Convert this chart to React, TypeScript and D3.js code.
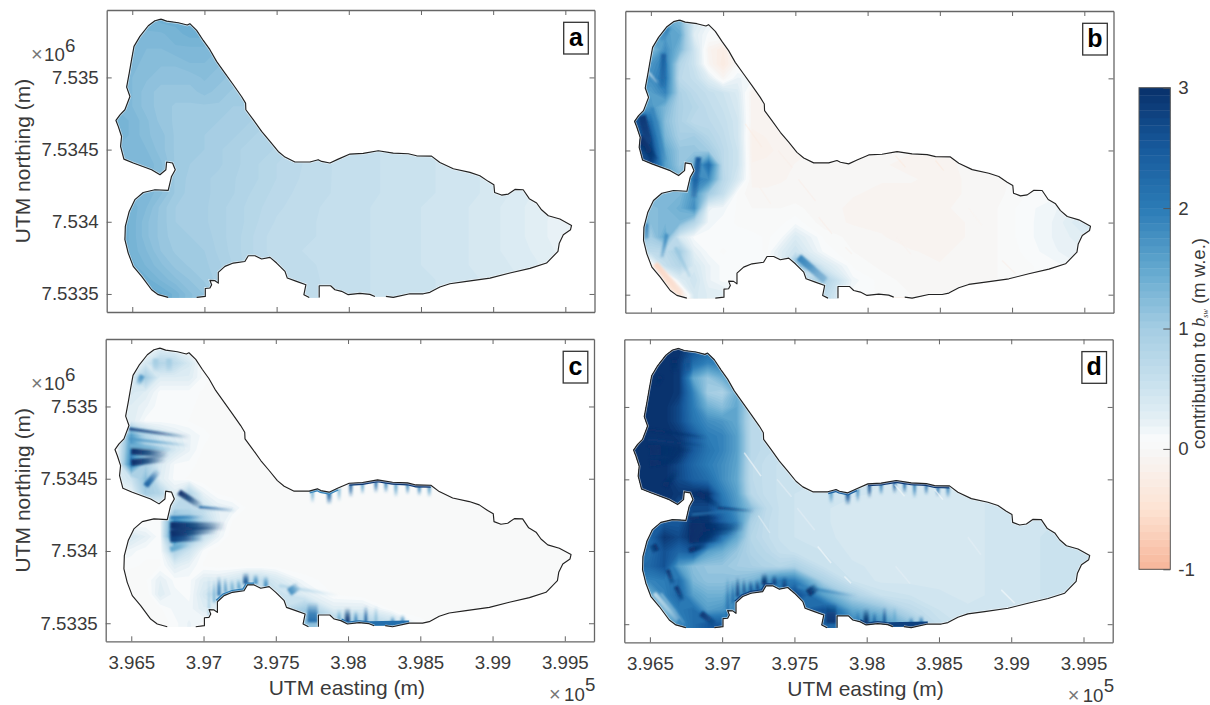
import React, { useRef, useEffect } from 'react';
import * as d3 from 'd3';

// grid nodes of the gridded fields (m), finer in the west
const gridEasting = [396300, 396400, 396500, 396600, 396700, 396800, 396900, 397000, 397100, 397200, 397300, 397400, 397500, 397700, 397900, 398100, 398300, 398500, 398700, 398900, 399100, 399300, 399500, 399700];
const gridNorthing = [7535500, 7535400, 7535300, 7535200, 7535100, 7535000, 7534900, 7534800, 7534700, 7534600, 7534500, 7534400, 7534300, 7534200, 7534100, 7534000, 7533900, 7533800, 7533700, 7533600, 7533500, 7533400];

const fieldA = [
  [1.3, 1.3, 1.3, 1.35, 1.4, 1.4, 1.4, 1.4, 1.35, 1.3, 1.2, 1.1, 1, .8, .7, .6, .55, .5, .45, .4, .35, .3, .25, .2],
  [1.3, 1.3, 1.3, 1.35, 1.4, 1.4, 1.4, 1.4, 1.35, 1.3, 1.2, 1.1, 1, .8, .7, .6, .55, .5, .45, .4, .35, .3, .25, .2],
  [1.3, 1.3, 1.3, 1.3, 1.3, 1.35, 1.4, 1.4, 1.3, 1.25, 1.15, 1.05, 1, .8, .7, .6, .55, .5, .45, .4, .35, .3, .25, .2],
  [1.3, 1.3, 1.3, 1.25, 1.25, 1.3, 1.3, 1.3, 1.25, 1.2, 1.1, 1.05, 1, .8, .7, .6, .55, .5, .45, .4, .35, .3, .25, .2],
  [1.3, 1.3, 1.3, 1.2, 1.2, 1.2, 1.25, 1.25, 1.2, 1.15, 1.1, 1, .95, .8, .7, .6, .55, .5, .45, .4, .35, .3, .25, .2],
  [1.3, 1.3, 1.25, 1.2, 1.15, 1.15, 1.15, 1.2, 1.15, 1.1, 1.05, 1, .95, .8, .7, .6, .55, .5, .45, .4, .35, .3, .25, .2],
  [1.3, 1.3, 1.25, 1.15, 1.1, 1.1, 1.1, 1.15, 1.1, 1.05, 1, .95, .9, .78, .7, .6, .55, .5, .45, .4, .35, .3, .25, .2],
  [1.3, 1.3, 1.25, 1.15, 1.1, 1.05, 1.05, 1.05, 1.05, 1, 1, .95, .9, .75, .68, .6, .55, .52, .48, .42, .36, .3, .25, .2],
  [1.35, 1.35, 1.3, 1.2, 1.1, 1.05, 1, 1, 1, .95, .95, .9, .85, .72, .65, .6, .55, .52, .48, .42, .36, .3, .25, .2],
  [1.35, 1.35, 1.3, 1.2, 1.15, 1.05, 1, 1, .95, .95, .9, .85, .82, .7, .64, .6, .55, .52, .48, .42, .36, .3, .25, .2],
  [1.3, 1.3, 1.3, 1.25, 1.15, 1.05, 1, 1, .95, .9, .85, .85, .8, .7, .63, .58, .55, .52, .48, .42, .36, .3, .25, .2],
  [1.3, 1.3, 1.3, 1.3, 1.2, 1.05, 1, .95, .95, .9, .85, .8, .75, .68, .62, .58, .55, .52, .48, .42, .36, .3, .24, .18],
  [1.3, 1.3, 1.3, 1.3, 1.2, 1.05, .98, .95, .92, .88, .85, .8, .75, .67, .62, .58, .55, .52, .48, .44, .38, .3, .25, .2],
  [1.3, 1.3, 1.3, 1.3, 1.2, 1.05, .97, .95, .92, .88, .82, .78, .72, .66, .62, .58, .55, .52, .48, .44, .38, .3, .25, .2],
  [1.4, 1.4, 1.35, 1.25, 1.1, 1, .95, .95, .9, .85, .8, .75, .7, .65, .6, .57, .54, .5, .47, .42, .36, .28, .22, .18],
  [1.45, 1.45, 1.35, 1.2, 1.1, 1, .97, .95, .9, .85, .8, .73, .68, .64, .6, .57, .54, .5, .47, .42, .36, .28, .2, .16],
  [1.45, 1.45, 1.35, 1.2, 1.1, 1.02, 1, .98, .9, .85, .78, .7, .66, .64, .6, .57, .54, .5, .47, .42, .36, .28, .2, .16],
  [1.45, 1.45, 1.35, 1.25, 1.12, 1.05, 1.02, 1, .92, .85, .78, .7, .66, .62, .6, .57, .54, .5, .47, .42, .36, .3, .22, .18],
  [1.45, 1.45, 1.4, 1.3, 1.2, 1.1, 1.05, 1.02, .95, .87, .78, .72, .68, .64, .6, .57, .54, .5, .47, .42, .38, .32, .24, .2],
  [1.45, 1.45, 1.45, 1.4, 1.3, 1.2, 1.12, 1.05, .97, .9, .8, .74, .7, .65, .6, .57, .54, .52, .48, .44, .4, .34, .26, .2],
  [1.5, 1.5, 1.5, 1.5, 1.45, 1.35, 1.2, 1.12, 1, .9, .82, .76, .72, .66, .6, .57, .54, .52, .48, .44, .4, .34, .26, .2],
  [1.5, 1.5, 1.5, 1.5, 1.45, 1.35, 1.2, 1.12, 1, .9, .82, .76, .72, .66, .6, .57, .54, .52, .48, .44, .4, .34, .26, .2],
];

const fieldB = [
  [1.5, 1.5, 1.5, 1.5, 1, .4, .2, 0, -.05, -.05, -.05, -.05, -.05, -.05, -.05, -.05, -.05, -.05, -.05, 0, .05, .1, .2, .3],
  [1.5, 1.5, 1.5, 1.5, 1.3, .4, .2, .1, 0, -.05, -.05, -.05, -.05, -.05, -.05, -.05, -.05, -.05, -.05, 0, .05, .1, .2, .3],
  [1.6, 1.6, 1.6, 1.6, 1.5, .3, .1, .1, 0, -.05, -.05, -.05, -.05, -.05, -.05, -.05, -.05, -.05, -.05, 0, .05, .1, .2, .3],
  [1.8, 1.8, 1.2, 1.8, 1.3, .5, -.1, -.25, 0, -.05, -.05, -.05, -.05, -.05, -.05, -.05, -.05, -.05, -.05, 0, .05, .1, .2, .3],
  [1.8, 1.8, 1.7, 2, .8, .5, -.05, -.3, 0, -.05, -.05, -.05, -.05, -.05, -.05, -.05, -.05, -.05, -.05, 0, .05, .1, .2, .3],
  [1.9, 1.9, 1.8, 2.1, .7, .6, .3, -.05, .2, .15, -.1, -.05, -.05, -.05, -.05, -.05, -.05, -.05, -.05, 0, .05, .1, .2, .3],
  [1.7, 1.7, 1.6, 1.9, .9, .7, .6, .5, .35, -.1, -.1, -.05, -.05, -.05, -.05, -.05, -.05, -.05, -.05, 0, .05, .1, .2, .3],
  [1.4, 1.4, 1.7, 1.3, .9, .8, .65, .55, .4, -.1, -.1, -.08, -.05, -.05, -.05, -.05, -.05, -.05, -.05, 0, .05, .1, .2, .3],
  [2.6, 2.6, 2.2, 1.2, .9, .7, .7, .6, .45, -.1, -.1, -.08, -.06, -.05, -.05, -.05, -.05, -.05, -.05, 0, .05, .1, .2, .3],
  [2.6, 2.6, 2.5, 1.3, .95, 1, .8, .65, .45, -.15, -.12, -.1, -.08, -.05, -.05, -.05, -.05, -.05, -.05, 0, .05, .1, .2, .3],
  [2.7, 2.8, 2.7, 1.5, 1.1, 1.1, 1, .7, .5, -.15, -.15, -.1, -.08, -.05, -.05, -.06, -.06, -.08, -.05, 0, .05, .1, .2, .3],
  [2.7, 2.7, 2.8, 1.6, 1.1, 1.4, 2.2, .7, .5, -.12, -.1, -.08, -.06, -.02, -.05, -.06, -.07, -.08, -.05, -.02, .05, .1, .2, .3],
  [2, 2, 2, 1.6, 1.3, 2, 1.8, .75, .4, -.08, -.08, -.07, -.05, -.05, -.06, -.06, -.06, -.07, -.06, -.03, .05, .1, .2, .3],
  [1.4, 1.4, 1.4, 1.3, 1.3, 1.7, 1, .6, .05, -.05, -.05, -.04, -.04, -.05, -.06, -.07, -.07, -.07, -.06, -.02, .06, .1, .2, .3],
  [1.3, 1.4, 1.2, 1.3, 1.4, 1.8, .2, .15, .05, 0, 0, 0, .02, -.05, -.07, -.07, -.07, -.07, -.05, 0, .1, .18, .3, .4],
  [1.8, 1.8, 1.2, 1.3, 1.3, .8, .15, .1, .05, 0, 0, .05, .1, -.04, -.07, -.07, -.08, -.08, -.06, 0, .1, .2, .4, .5],
  [1.8, 1.8, 1, 1.5, .4, .1, .1, .1, .1, .1, .05, .1, .35, .05, -.03, -.06, -.08, -.08, -.06, 0, .1, .2, .3, .4],
  [.6, .6, .7, .7, 1, .25, .1, .05, .1, .1, .05, .3, .5, .1, 0, -.04, -.06, -.07, -.05, 0, .08, .18, .25, .3],
  [-.1, -.1, -.1, .6, .8, .4, .2, .1, .1, .1, .1, .3, 1.3, .4, .05, -.02, -.05, -.06, -.04, 0, .05, .1, .2, .3],
  [-.4, -.4, -.35, -.4, .3, .5, .2, .1, .1, .1, .1, .4, .6, .9, .15, .03, -.03, -.05, -.03, 0, .05, .1, .2, .3],
  [-.4, -.4, -.4, -.45, -.4, .4, .3, .3, .2, .2, .2, .3, .4, .7, .1, .05, 0, -.03, -.03, 0, .05, .1, .2, .3],
  [-.4, -.4, -.4, -.45, -.4, .4, .3, .3, .2, .2, .2, .3, .4, .7, .1, .05, 0, -.03, -.03, 0, .05, .1, .2, .3],
];

const fieldC = [
  [0, 0, 0, 0, 0, 0, 0, 0, 0, 0, 0, 0, 0, 0, 0, 0, 0, 0, 0, 0, 0, 0, 0, 0],
  [0, 0, .08, .1, .3, .3, .1, 0, 0, 0, 0, 0, 0, 0, 0, 0, 0, 0, 0, 0, 0, 0, 0, 0],
  [.1, .1, .1, .4, .8, .7, .4, .05, 0, 0, 0, 0, 0, 0, 0, 0, 0, 0, 0, 0, 0, 0, 0, 0],
  [.4, .4, .4, 1, .3, .3, .3, .1, 0, 0, 0, 0, 0, 0, 0, 0, 0, 0, 0, 0, 0, 0, 0, 0],
  [.4, .4, .4, .3, .1, .1, .1, .05, 0, 0, 0, 0, 0, 0, 0, 0, 0, 0, 0, 0, 0, 0, 0, 0],
  [.3, .3, .3, .2, .08, .08, .08, .03, 0, 0, 0, 0, 0, 0, 0, 0, 0, 0, 0, 0, 0, 0, 0, 0],
  [.3, .3, .3, .1, .1, .08, .06, .02, 0, 0, 0, 0, 0, 0, 0, 0, 0, 0, 0, 0, 0, 0, 0, 0],
  [.1, .1, 1.6, .8, .45, .3, .2, .1, .02, 0, 0, 0, 0, 0, 0, 0, 0, 0, 0, 0, 0, 0, 0, 0],
  [.08, .08, 1.8, 1, .55, .4, .2, .05, 0, 0, 0, 0, 0, 0, 0, 0, 0, 0, 0, 0, 0, 0, 0, 0],
  [.08, .08, 2, .9, .35, .12, .1, .02, 0, 0, 0, 0, 0, 0, 0, 0, 0, 0, 0, 0, 0, 0, 0, 0],
  [.3, .3, .5, 1.2, .3, .1, .05, 0, 0, 0, 0, 0, 0, 0, 0, 0, 0, 0, 0, 0, 0, 0, 0, 0],
  [.2, .2, .2, 1, .8, .3, .8, .2, .05, 0, 0, 0, 0, .05, .03, 0, 0, 0, 0, 0, 0, 0, 0, 0],
  [0, 0, 0, 0, .1, .7, .7, .5, .25, .2, .05, 0, 0, 0, 0, 0, 0, 0, 0, 0, 0, 0, 0, 0],
  [0, 0, 0, .05, .1, 2, 1.5, .8, .3, .05, 0, 0, 0, 0, 0, 0, 0, 0, 0, 0, 0, 0, 0, 0],
  [.5, .5, .4, .25, .08, 2.2, 1.3, .6, .2, 0, 0, 0, 0, 0, 0, 0, 0, 0, 0, 0, 0, 0, 0, 0],
  [.2, .2, .15, .08, .08, .9, .5, .1, 0, 0, 0, 0, 0, 0, 0, 0, 0, 0, 0, 0, 0, 0, 0, 0],
  [.1, .1, .08, .05, .05, .3, .2, .05, .02, .02, .02, .02, .02, 0, 0, 0, 0, 0, 0, 0, 0, 0, 0, 0],
  [0, 0, 0, .05, .25, .1, .1, .3, .3, .4, .6, .6, .4, .1, .02, 0, 0, 0, 0, 0, 0, 0, 0, 0],
  [0, 0, 0, 0, .3, .15, .1, .4, .8, .8, .8, .6, .6, .3, .05, 0, 0, 0, 0, 0, 0, 0, 0, 0],
  [0, 0, 0, 0, .05, .15, .15, .3, .3, .3, .3, .4, .5, 1, .3, .3, .05, 0, 0, 0, 0, 0, 0, 0],
  [0, 0, 0, 0, 0, .1, .2, .1, .1, .1, .1, .3, .5, 1.2, 1, 1, .6, .1, 0, 0, 0, 0, 0, 0],
  [0, 0, 0, 0, 0, .1, .2, .1, .1, .1, .1, .3, .5, 1.2, 1, 1, .6, .1, 0, 0, 0, 0, 0, 0],
];

const fieldD = [
  [3, 3, 3, 3, 2.6, 2.2, 2, 1.8, 1.5, 1, .8, .7, .6, .5, .45, .42, .42, .42, .42, .45, .48, .5, .55, .55],
  [3, 3, 3, 3, 3, 2.6, 2.3, 2.2, 1.6, 1, .8, .7, .6, .5, .45, .42, .42, .42, .42, .45, .48, .5, .55, .55],
  [3, 3, 3, 3, 2.9, 2.2, 1.9, 2, 1.8, 1, .8, .7, .6, .5, .45, .42, .42, .42, .42, .45, .48, .5, .55, .55],
  [3, 3, 3, 3, 2.9, 1.5, 1.1, 1.4, 1.7, 1.2, .8, .7, .6, .5, .45, .42, .42, .42, .42, .45, .48, .5, .55, .55],
  [3, 3, 3, 3, 2.9, 1.9, 1, .9, 1.4, 1, .7, .65, .6, .5, .45, .42, .42, .42, .42, .45, .48, .5, .55, .55],
  [3, 3, 3, 3, 2.7, 2, 1.4, 1.2, 1.5, .8, .7, .65, .6, .5, .45, .42, .42, .42, .42, .45, .48, .5, .55, .55],
  [3, 3, 3, 3, 2.7, 2.1, 1.8, 1.7, 1.5, .75, .7, .65, .6, .5, .45, .42, .42, .42, .42, .45, .48, .5, .55, .55],
  [3, 3, 3, 3, 2.9, 2.5, 2, 1.9, 1.6, .75, .65, .62, .58, .5, .45, .42, .42, .42, .42, .45, .48, .5, .55, .55],
  [3, 3, 3, 3, 3, 2.5, 2.1, 1.9, 1.6, .75, .65, .6, .55, .48, .45, .42, .42, .42, .42, .45, .48, .5, .55, .55],
  [3, 3, 3, 3, 2.7, 2.3, 2, 1.8, 1.55, .7, .6, .55, .52, .48, .45, .42, .42, .42, .42, .45, .48, .5, .55, .55],
  [3, 3, 3, 3, 2.7, 2.4, 2.2, 1.8, 1.5, .7, .6, .55, .5, .5, .48, .44, .42, .42, .42, .45, .48, .5, .55, .55],
  [3, 3, 3, 3, 2.9, 3, 3, 2, 1.6, .75, .6, .55, .5, .45, .45, .43, .42, .42, .42, .45, .48, .5, .55, .55],
  [3, 3, 3, 3, 2.5, 2.7, 2.7, 2.2, 1.7, 1.2, .7, .55, .5, .45, .4, .4, .4, .4, .42, .45, .48, .5, .55, .55],
  [2.4, 2.4, 2.4, 2.5, 2.5, 3, 3, 2.4, 1.9, .9, .65, .55, .5, .45, .4, .4, .4, .4, .42, .45, .48, .5, .55, .55],
  [2.5, 2.5, 2.3, 2.9, 2.7, 3, 2.9, 2.1, 1.5, .8, .65, .55, .5, .45, .42, .4, .4, .4, .42, .45, .48, .52, .55, .55],
  [2.6, 2.5, 2.2, 2.6, 2.3, 2.5, 1.6, 1.4, 1.1, .85, .75, .6, .55, .5, .42, .4, .4, .4, .42, .45, .48, .52, .55, .55],
  [2.2, 2.2, 2.3, 2.6, 1.6, 1.2, 1.1, 1.1, 1, .95, .85, .8, .9, .55, .45, .42, .4, .4, .42, .45, .48, .52, .55, .55],
  [1.9, 1.9, 1.9, 2, 2.2, 1.3, 1.15, 1.15, 1.2, 1.3, 1.7, 2, 2, .9, .5, .42, .42, .42, .42, .45, .48, .52, .55, .55],
  [1.4, 1.4, 1.4, 1.9, 2.3, 1.6, 1.4, 1.4, 1.8, 2.2, 2.3, 2.2, 2.8, 1.6, .9, .55, .5, .45, .42, .45, .48, .52, .55, .55],
  [1, 1, 1, 1.3, 2, 2.2, 1.6, 1.7, 1.9, 2.2, 2.3, 2.3, 2.2, 2.6, 1.5, 1.2, .7, .5, .45, .45, .48, .52, .55, .55],
  [1, 1, 1, 1, 1.8, 2.2, 2.5, 2.5, 2, 2, 2, 2, 2, 2.4, 2, 1.8, 1.2, .6, .45, .45, .48, .52, .55, .55],
  [1, 1, 1, 1, 1.8, 2.2, 2.5, 2.5, 2, 2, 2, 2, 2, 2.4, 2, 1.8, 1.2, .6, .45, .45, .48, .52, .55, .55],
];

// glacier outline (easting, northing in m), null = open stretch along the DEM cut
const outline: ([number, number] | null)[] = [
  [396699, 7535404], [396738, 7535390], [396819, 7535379], [396881, 7535363], [396899, 7535372], [396946, 7535326], [396992, 7535256], [397038, 7535192], [397084, 7535111], [397142, 7535030], [397200, 7534949], [397257, 7534868], [397285, 7534822], [397287, 7534776], [397338, 7534707], [397396, 7534626], [397454, 7534557], [397511, 7534487], [397558, 7534448], [397627, 7534414], [397731, 7534414], [397788, 7534430], [397812, 7534418], [397869, 7534407], [397927, 7534434], [398008, 7534469], [398100, 7534474], [398204, 7534492], [398308, 7534476], [398412, 7534471], [398470, 7534457], [398573, 7534455], [398631, 7534411], [398724, 7534367], [398839, 7534342], [398908, 7534319], [398966, 7534280], [399005, 7534257], [399010, 7534203], [399058, 7534185], [399105, 7534192], [399151, 7534224], [399208, 7534222], [399250, 7534160], [399301, 7534130], [399335, 7534083], [399382, 7534042], [399462, 7534019], [399543, 7533975], [399536, 7533945], [399486, 7533910], [399458, 7533852], [399449, 7533795], [399370, 7533714], [399255, 7533677], [399116, 7533645], [398978, 7533610], [398816, 7533587], [398700, 7533571], [398631, 7533548], [398562, 7533511], [398516, 7533501], [398423, 7533501], [398308, 7533476], [398257, 7533483],
  null,
  [398181, 7533483], [398146, 7533497], [398077, 7533504], [397996, 7533495], [397950, 7533518], [397904, 7533529], [397874, 7533557], [397795, 7533557], [397795, 7533476],
  null,
  [397726, 7533476], [397689, 7533495], [397703, 7533564], [397638, 7533587], [397574, 7533610], [397558, 7533656], [397500, 7533714], [397454, 7533753], [397396, 7533742], [397350, 7533765], [397304, 7533765], [397280, 7533725], [397200, 7533714], [397142, 7533691], [397096, 7533649], [397096, 7533575], [397073, 7533592], [397038, 7533594], [397050, 7533564], [397038, 7533541], [397006, 7533538], [397006, 7533483], [396946, 7533476],
  null,
  [396749, 7533476], [396680, 7533495], [396634, 7533529], [396565, 7533622], [396507, 7533691], [396472, 7533783], [396449, 7533876], [396452, 7533968], [396479, 7534072], [396518, 7534153], [396576, 7534203], [396657, 7534222], [396749, 7534217], [396772, 7534314], [396798, 7534360], [396779, 7534407], [396738, 7534414], [396733, 7534360], [396692, 7534326], [396634, 7534360], [396507, 7534407], [396442, 7534434], [396419, 7534522], [396426, 7534591], [396403, 7534661], [396387, 7534702], [396415, 7534741], [396449, 7534776], [396484, 7534868], [396461, 7534933], [396479, 7535030], [396495, 7535122], [396512, 7535215], [396553, 7535284], [396611, 7535358], [396657, 7535393], [396699, 7535404],
];

// narrow avalanche rays: start E, start N, end E, end N, value in c, value in d, width (m)
const rays = [
  [396484, 7534845, 396900, 7534787, 2.8, 3, 20],
  [396484, 7534776, 396900, 7534730, 1.7, 2.9, 16],
  [396484, 7534730, 396800, 7534700, 1.4, 3, 30],
  [396500, 7534690, 396760, 7534670, 3, 3, 45],
  [396500, 7534610, 396740, 7534640, 3, 3, 45],
  [396600, 7534450, 396690, 7534560, 2.4, 3, 40],
  [396830, 7534407, 396992, 7534303, 3, 3, 40],
  [396969, 7534303, 397223, 7534280, 2.4, 2.9, 16],
  [396790, 7534256, 397190, 7534295, .8, 2, 12],
  [396770, 7534230, 397000, 7534235, 2, 3, 20],
  [396770, 7534176, 397153, 7534170, 3, 3, 50],
  [396770, 7534120, 397100, 7534150, 3, 3, 50],
  [396770, 7534080, 397000, 7534090, 2.8, 3, 40],
  [396770, 7534010, 396900, 7534050, 1.5, 3, 35],
  [397038, 7533552, 397038, 7533829, 1, 2.3, 14],
  [397073, 7533645, 397073, 7533806, 1.4, 2.3, 14],
  [397107, 7533691, 397107, 7533829, 2.2, 2.8, 20],
  [397153, 7533714, 397149, 7533818, 1.8, 2.7, 14],
  [397200, 7533725, 397195, 7533806, 1.4, 2.6, 20],
  [397246, 7533737, 397241, 7533806, 1.6, 2.7, 20],
  [397292, 7533772, 397292, 7533852, 2.6, 3, 35],
  [397361, 7533772, 397361, 7533841, 1.8, 2.8, 28],
  [397431, 7533749, 397431, 7533829, 1.8, 2.8, 28],
  [397523, 7533760, 397938, 7533691, .8, 1.9, 20],
  [397592, 7533714, 397661, 7533760, 1.8, 3, 55],
  [397754, 7533506, 397754, 7533645, 2.2, 2.9, 70],
  [397938, 7533506, 397938, 7533598, 1.5, 2, 20],
  [397996, 7533495, 397996, 7533610, 2.9, 3, 35],
  [398054, 7533495, 398054, 7533587, 2, 2.4, 20],
  [398123, 7533495, 398123, 7533622, 2.5, 2.6, 20],
  [398193, 7533488, 398193, 7533622, 1.2, 1.5, 20],
  [398308, 7533488, 398308, 7533552, 1.8, 2, 25],
  [398377, 7533495, 398377, 7533560, 1.8, 2, 25],
  [397754, 7534414, 397754, 7534330, 1.3, 1.6, 22],
  [397869, 7534407, 397869, 7534320, 2.3, 2.5, 30],
  [397938, 7534437, 397938, 7534340, 1.3, 1.8, 20],
  [398019, 7534464, 398019, 7534370, 2.4, 2.6, 22],
  [398100, 7534469, 398100, 7534390, 1.6, 2, 20],
  [398193, 7534485, 398193, 7534400, 2.2, 2.4, 22],
  [398262, 7534480, 398262, 7534400, 1.9, 2.2, 22],
  [398331, 7534471, 398331, 7534370, 1.6, 1.9, 22],
  [398412, 7534467, 398412, 7534390, 1.9, 2.2, 20],
  [398493, 7534457, 398493, 7534380, 1.9, 2.2, 22],
  [398562, 7534453, 398562, 7534370, 1.6, 1.9, 22],
  [396669, 7535330, 396669, 7535230, 1, 3, 40],
  [396761, 7535330, 396761, 7535230, 1, 2.6, 40],
  [396576, 7535215, 396542, 7535145, 1.7, 3, 35],
];

// dark bands hugging the margin, drawn in c and d
const bandNorth = [[398008, 7534469], [398100, 7534474], [398204, 7534492], [398308, 7534476], [398412, 7534471], [398470, 7534457], [398573, 7534455]];
const bandNorthWest = [[397731, 7534414], [397788, 7534430], [397812, 7534418], [397869, 7534407], [397927, 7534434]];
const bandSouth = [[398423, 7533501], [398146, 7533497], [398077, 7533504], [397996, 7533495], [397950, 7533518]];
const bandSouthWest = [[397350, 7533765], [397304, 7533765], [397280, 7533725], [397200, 7533714], [397142, 7533691], [397096, 7533649]];
const bandLines = [bandNorth, bandNorthWest, bandSouth, bandSouthWest];
const bandValuesC = [2.9, 1.9, 2.2, 2];
const bandValuesD = [2.9, 2.4, 2.8, 2.8];

// ridges seen only in b and only in d: start E, start N, end E, end N, value, width (m)
const ridgesB = [
  [396588, 7535169, 396576, 7534938, 2.4, 35],
  [396438, 7534741, 396507, 7534453, 2.9, 55],
  [396415, 7534591, 396530, 7534430, 3, 50],
  [396507, 7534799, 396599, 7534430, 1.9, 25],
  [396830, 7534453, 396796, 7534176, 2.5, 40],
  [396472, 7533991, 396472, 7533887, 2.2, 14],
  [396611, 7533922, 396576, 7533760, 1.8, 22],
  [397523, 7533760, 397708, 7533598, 1.9, 50],
  [396530, 7533714, 396715, 7533506, -.65, 40],
  [396622, 7535353, 396576, 7535261, 1.9, 35],
  [396669, 7533829, 396772, 7533622, 1.1, 20],
  [396484, 7535042, 396542, 7534972, .3, 12],
];
const ridgesD = [
  [396553, 7534037, 396507, 7534014, 3, 50],
  [396622, 7533876, 396657, 7533783, 2.9, 30],
  [396680, 7533760, 396726, 7533668, 2.9, 30],
  [396530, 7533714, 396692, 7533529, .7, 30],
  [396576, 7533714, 396738, 7533506, 1.1, 12],
  [396853, 7533575, 396946, 7533506, 2.9, 40],
];

// diagonal surface scratches seen in b and d: start E, start N, end E, end N, value in b, value in d
const scratches = [
  [397153, 7534684, 397269, 7534522, -.25, .12],
  [397661, 7534037, 397754, 7533922, -.2, .1],
  [398193, 7534464, 398262, 7534384, -.3, .15],
  [398470, 7534430, 398527, 7534360, -.35, .1],
  [398931, 7533737, 399024, 7533645, -.2, .1],
  [397846, 7533829, 397892, 7533783, -.15, .1],
  [397380, 7534500, 397480, 7534380, -.2, .25],
  [397520, 7534300, 397640, 7534150, -.2, .25],
  [397250, 7534250, 397330, 7534130, -.15, .3],
  [398700, 7534100, 398790, 7533980, -.1, .25],
  [398200, 7533900, 398300, 7533780, -.12, .25],
];

const xDomain = [396323, 399702];
const yDomain = [7533375, 7535467];
const xTicks = [396500, 397000, 397500, 398000, 398500, 399000, 399500];
const yTicks = [7533500, 7534000, 7534500, 7535000];
const barTicks = [-1, 0, 1, 2, 3];

const colorStops = [-1, -.5, 0, .08, .25, .5, 1, 1.5, 2, 2.5, 3];
const colorValues = ['#f7b599', '#fde3d3', '#f7f7f7', '#fafbfc', '#e4eff5', '#cde3ef', '#a4cde3', '#62a8cf', '#2b7bb6', '#175a9c', '#08306b'];

const FONT = '"Liberation Sans", Arial, sans-serif';
const TEXT = '#3a3a3a';

const panels = [
  { key: 'a', left: 106.7, right: 594.5, top: 10, bottom: 312, field: fieldA, rayCol: -1, scratchCol: -1, bands: null, ridges: null, xLab: false, yLab: true },
  { key: 'b', left: 625.3, right: 1113.5, top: 11, bottom: 312.7, field: fieldB, rayCol: -1, scratchCol: 4, bands: null, ridges: ridgesB, xLab: false, yLab: false },
  { key: 'c', left: 105.7, right: 594, top: 339, bottom: 641.3, field: fieldC, rayCol: 4, scratchCol: -1, bands: bandValuesC, ridges: null, xLab: true, yLab: true },
  { key: 'd', left: 624.3, right: 1112.7, top: 339.3, bottom: 642.3, field: fieldD, rayCol: 5, scratchCol: 5, bands: bandValuesD, ridges: ridgesD, xLab: true, yLab: false },
];

const draw = (svgRef) => {
  const svg = d3.select(svgRef.current);
  svg.selectAll('*').remove();

  const color = d3.scaleLinear<string>().domain(colorStops).range(colorValues).clamp(true);
  const levels = d3.range(64).map(i => -1 + i * 4 / 64);
  const defs = svg.append('defs');
  defs.append('filter').attr('id', 'soft').append('feGaussianBlur').attr('stdDeviation', 1.1);
  defs.append('filter').attr('id', 'softer').append('feGaussianBlur').attr('stdDeviation', 0.6);

  const iE = d3.scaleLinear().domain(d3.range(gridEasting.length)).range(gridEasting);
  const iN = d3.scaleLinear().domain(d3.range(gridNorthing.length)).range(gridNorthing);

  panels.forEach(p => {
    const x = d3.scaleLinear().domain(xDomain).range([p.left, p.right]);
    const y = d3.scaleLinear().domain(yDomain).range([p.bottom, p.top]);
    const metre = (p.right - p.left) / (xDomain[1] - xDomain[0]);
    const g = svg.append('g');

    const clipPts = outline.filter(d => d) as [number, number][];
    const clipLine = d3.line<[number, number]>().x(d => x(d[0])).y(d => y(d[1]));
    defs.append('clipPath').attr('id', `clip-${p.key}`)
      .append('path').attr('d', clipLine(clipPts) + 'Z');

    const inner = g.append('g').attr('clip-path', `url(#clip-${p.key})`);

    // filled field
    const contours = d3.contours()
      .size([gridEasting.length, gridNorthing.length])
      .thresholds(levels)(p.field.flat());
    const path = d3.geoPath(d3.geoTransform({
      point(px, py) {
        this.stream.point(x(iE(px - 0.5)), y(iN(py - 0.5)));
      },
    }));
    inner.selectAll('path.level').data(contours).join('path')
      .attr('class', 'level')
      .attr('d', path)
      .attr('fill', d => color(d.value + 2 / 64));

    // a streak fades from its start towards its end
    const streak = (parent, id, e0, n0, e1, n1, v, w, endOpacity) => {
      const grad = defs.append('linearGradient').attr('id', id)
        .attr('gradientUnits', 'userSpaceOnUse')
        .attr('x1', x(e0)).attr('y1', y(n0)).attr('x2', x(e1)).attr('y2', y(n1));
      grad.append('stop').attr('offset', 0).attr('stop-color', color(v)).attr('stop-opacity', 1);
      grad.append('stop').attr('offset', 0.45).attr('stop-color', color(v)).attr('stop-opacity', 0.75);
      grad.append('stop').attr('offset', 1).attr('stop-color', color(v)).attr('stop-opacity', endOpacity);
      parent.append('path')
        .attr('d', d3.line()([[x(e0), y(n0)], [x(e1), y(n1)]]))
        .attr('stroke', `url(#${id})`)
        .attr('stroke-width', w * metre)
        .attr('fill', 'none');
    };

    if (p.ridges) {
      const ridgeG = inner.append('g').attr('filter', 'url(#soft)');
      p.ridges.forEach((r, i) => streak(ridgeG, `ridge-${p.key}-${i}`, r[0], r[1], r[2], r[3], r[4], r[5], 0.35));
    }

    if (p.rayCol >= 0) {
      const rayG = inner.append('g').attr('filter', 'url(#soft)');
      rays.forEach((r, i) => streak(rayG, `ray-${p.key}-${i}`, r[0], r[1], r[2], r[3], r[p.rayCol], r[6], 0));
    }

    if (p.bands) {
      const bandG = inner.append('g').attr('filter', 'url(#softer)');
      const bandLine = d3.line<number[]>().x(d => x(d[0])).y(d => y(d[1]));
      bandLines.forEach((pts, i) => {
        bandG.append('path')
          .attr('d', bandLine(pts))
          .attr('fill', 'none')
          .attr('stroke', color(p.bands[i]))
          .attr('stroke-width', 5);
      });
    }

    // scratches
    if (p.scratchCol >= 0) {
      inner.append('g').attr('filter', 'url(#softer)')
        .selectAll('line').data(scratches).join('line')
        .attr('x1', d => x(d[0])).attr('y1', d => y(d[1]))
        .attr('x2', d => x(d[2])).attr('y2', d => y(d[3]))
        .attr('stroke', d => color(d[p.scratchCol]))
        .attr('stroke-width', 1.5)
        .attr('stroke-opacity', 0.6);
    }

    // outline, with the cut stretches left open
    const outlineLine = d3.line<[number, number] | null>()
      .defined(d => d !== null)
      .x(d => x(d![0])).y(d => y(d![1]));
    g.append('path').attr('d', outlineLine(outline))
      .attr('fill', 'none').attr('stroke', '#ffffff').attr('stroke-width', 2.6).attr('stroke-opacity', 0.55);
    g.append('path').attr('d', outlineLine(outline))
      .attr('fill', 'none').attr('stroke', '#222').attr('stroke-width', 1.15).attr('stroke-linejoin', 'round');

    // axes, ticks on all four sides
    const styleAxis = (sel) => {
      sel.select('.domain').attr('stroke', '#666').attr('stroke-width', 1.3);
      sel.selectAll('.tick line').attr('stroke', '#666').attr('stroke-width', 1);
      sel.selectAll('text').attr('font-family', FONT).attr('font-size', 18.7).attr('fill', TEXT);
    };
    g.append('g').attr('transform', `translate(0,${p.bottom})`)
      .call(d3.axisBottom(x).tickValues(xTicks).tickSizeInner(-5).tickSizeOuter(0).tickPadding(14)
        .tickFormat(d => p.xLab ? `${+(+d / 1e5).toFixed(4)}` : ''))
      .call(styleAxis);
    g.append('g').attr('transform', `translate(0,${p.top})`)
      .call(d3.axisTop(x).tickValues(xTicks).tickSizeInner(-5).tickSizeOuter(0).tickFormat(() => ''))
      .call(styleAxis);
    g.append('g').attr('transform', `translate(${p.left},0)`)
      .call(d3.axisLeft(y).tickValues(yTicks).tickSizeInner(-5).tickSizeOuter(0).tickPadding(8)
        .tickFormat(d => p.yLab ? `${+(+d / 1e6).toFixed(4)}` : ''))
      .call(styleAxis);
    g.append('g').attr('transform', `translate(${p.right},0)`)
      .call(d3.axisRight(y).tickValues(yTicks).tickSizeInner(-5).tickSizeOuter(0).tickFormat(() => ''))
      .call(styleAxis);

    const txt = (tx, ty, s, size = 18.7, fill = TEXT) => g.append('text')
      .attr('x', tx).attr('y', ty).attr('font-family', FONT).attr('font-size', size).attr('fill', fill).text(s);

    if (p.yLab) {
      g.append('text')
        .attr('transform', `translate(30,${(p.top + p.bottom) / 2}) rotate(-90)`)
        .attr('text-anchor', 'middle').attr('font-family', FONT).attr('font-size', 21).attr('fill', TEXT)
        .text('UTM northing (m)');
      txt(31, p.top + 51, '×', 20, '#777');
      txt(44, p.top + 51, '10');
      txt(65, p.top + 42, '6');
    }
    if (p.xLab) {
      g.append('text')
        .attr('x', (p.left + p.right) / 2 - 3).attr('y', p.bottom + 54)
        .attr('text-anchor', 'middle').attr('font-family', FONT).attr('font-size', 21).attr('fill', TEXT)
        .text('UTM easting (m)');
      txt(p.right - 45, p.bottom + 60, '×', 20, '#777');
      txt(p.right - 30, p.bottom + 60, '10');
      txt(p.right - 9, p.bottom + 50, '5');
    }

    // panel letter
    g.append('rect')
      .attr('x', p.right - 30.8).attr('y', p.top + 12.3).attr('width', 24.6).attr('height', 31.7)
      .attr('fill', '#fff').attr('stroke', '#333').attr('stroke-width', 1.3);
    g.append('text')
      .attr('x', p.right - 18.5).attr('y', p.top + 36)
      .attr('text-anchor', 'middle').attr('font-family', FONT).attr('font-weight', 'bold').attr('font-size', 25).attr('fill', '#000')
      .text(p.key);
  });

  // colour bar
  const barLeft = 1139, barRight = 1170.3;
  const barY = d3.scaleLinear().domain([-1, 3]).range([569.3, 87.7]);
  const bar = svg.append('g');
  bar.selectAll('rect').data(levels).join('rect')
    .attr('x', barLeft).attr('width', barRight - barLeft)
    .attr('y', d => barY(d + 4 / 64)).attr('height', d => barY(d) - barY(d + 4 / 64) + 0.4)
    .attr('fill', d => color(d + 2 / 64));
  bar.append('rect')
    .attr('x', barLeft).attr('y', barY(3)).attr('width', barRight - barLeft).attr('height', barY(-1) - barY(3))
    .attr('fill', 'none').attr('stroke', '#555').attr('stroke-width', 1);
  const barAxis = bar.append('g').attr('transform', `translate(${barRight},0)`)
    .call(d3.axisRight(barY).tickValues(barTicks).tickSizeInner(-7).tickSizeOuter(0).tickPadding(8).tickFormat(d => String(d)));
  barAxis.select('.domain').remove();
  barAxis.selectAll('.tick line').attr('stroke', '#555');
  barAxis.selectAll('text').attr('font-family', FONT).attr('font-size', 18.7).attr('fill', TEXT);

  const label = svg.append('text')
    .attr('transform', 'translate(1205,343.5) rotate(-90)')
    .attr('text-anchor', 'middle').attr('font-family', FONT).attr('font-size', 18.6).attr('fill', TEXT);
  label.append('tspan').text('contribution to ');
  label.append('tspan').attr('font-family', '"Liberation Serif", serif').attr('font-style', 'italic').text('b');
  label.append('tspan').attr('font-family', '"Liberation Serif", serif').attr('font-style', 'italic').attr('font-size', 8).attr('dy', 3).text('sw');
  label.append('tspan').attr('dy', -3).text(' (m w.e.)');
};

export default function App() {
  const svgRef = useRef(null);

  useEffect(() => {
    draw(svgRef);
  }, []);

  return (
    <svg ref={svgRef} width={1210} height={705} style={{ position: 'absolute', left: 0, top: 0, background: '#fff' }} />
  );
}
